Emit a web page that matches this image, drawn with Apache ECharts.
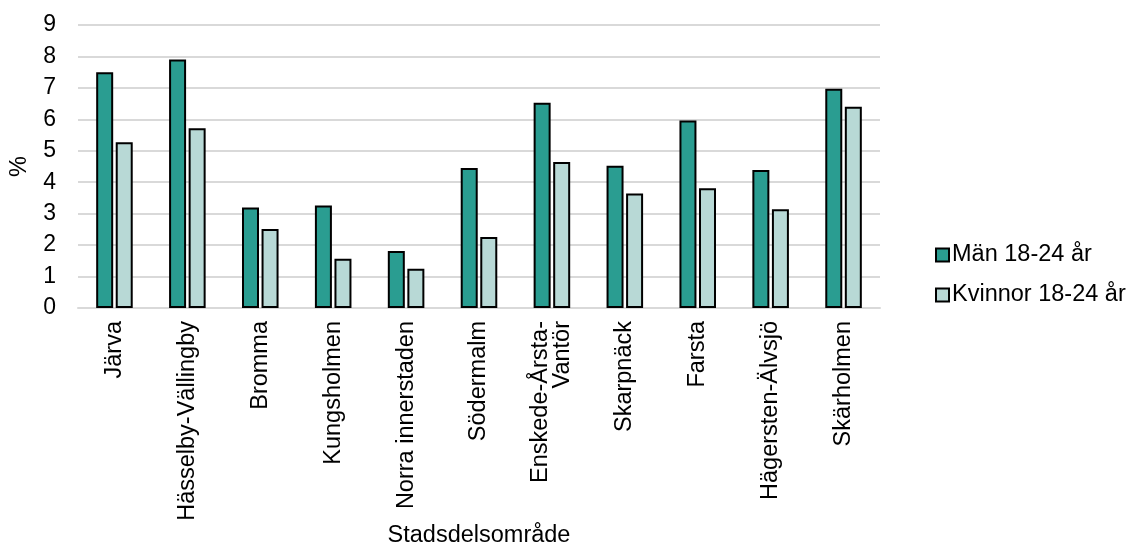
<!DOCTYPE html>
<html><head><meta charset="utf-8">
<script src="https://cdn.jsdelivr.net/npm/echarts@6/dist/echarts.min.js"></script>
<style>html,body{margin:0;padding:0;background:#fff}#c{width:1133px;height:544px}</style>
</head><body><div id="c"></div>
<script>
const categories = ['Järva','Hässelby-Vällingby','Bromma','Kungsholmen','Norra innerstaden','Södermalm','Enskede-Årsta-\nVantör','Skarpnäck','Farsta','Hägersten-Älvsjö','Skärholmen'];
const men = [7.5, 7.9, 3.2, 3.26, 1.81, 4.45, 6.53, 4.52, 5.96, 4.39, 6.97];
const women = [5.27, 5.72, 2.51, 1.57, 1.25, 2.26, 4.64, 3.64, 3.81, 3.14, 6.4];
const yTicks = [0,1,2,3,4,5,6,7,8,9];

const chart = echarts.init(document.getElementById('c'));
const font = 'Liberation Sans, Arial, sans-serif';
chart.setOption({
  animation: false,
  textStyle: {fontFamily: font},
  grid: {left: 78, right: 253, top: 25, bottom: 236, containLabel: false, outerBoundsMode: 'none'},
  legend: {
    orient: 'vertical', left: 935, top: 243, padding: 0, itemWidth: 13, itemHeight: 13, itemGap: 16,
    icon: 'rect',
    textStyle: {fontSize: 23.5, color: '#000', fontFamily: font, padding: [0,0,0,-2]},
    data: ['Män 18-24 år','Kvinnor 18-24 år']
  },
  xAxis: {
    type: 'category', data: categories,
    name: 'Stadsdelsområde', nameLocation: 'middle', nameGap: 216, nameMoveOverlap: false,
    nameTextStyle: {fontSize: 23.5, color: '#000', fontFamily: font},
    axisLine: {lineStyle: {color: '#d9d9d9', width: 2}},
    axisTick: {show: false},
    axisLabel: {rotate: 90, fontSize: 23.5, color: '#000', margin: 13, lineHeight: 22, fontFamily: font}
  },
  yAxis: {
    type: 'value', min: yTicks[0], max: yTicks[yTicks.length-1], interval: 1,
    name: '%', nameLocation: 'middle', nameGap: 46, nameRotate: 90, nameMoveOverlap: false,
    nameTextStyle: {fontSize: 23.5, color: '#000', fontFamily: font},
    axisLabel: {fontSize: 23, color: '#000', margin: 22, fontFamily: font},
    splitLine: {lineStyle: {color: '#d9d9d9', width: 2}},
    axisLine: {show: false}, axisTick: {show: false}
  },
  series: [
    {name: 'Män 18-24 år', type: 'bar', data: men, barWidth: 17, barGap: '15%',
     itemStyle: {color: '#2a9d91', borderColor: '#000', borderWidth: 2}},
    {name: 'Kvinnor 18-24 år', type: 'bar', data: women, barWidth: 17,
     itemStyle: {color: '#b8d9d6', borderColor: '#000', borderWidth: 2}}
  ]
});
</script></body></html>
